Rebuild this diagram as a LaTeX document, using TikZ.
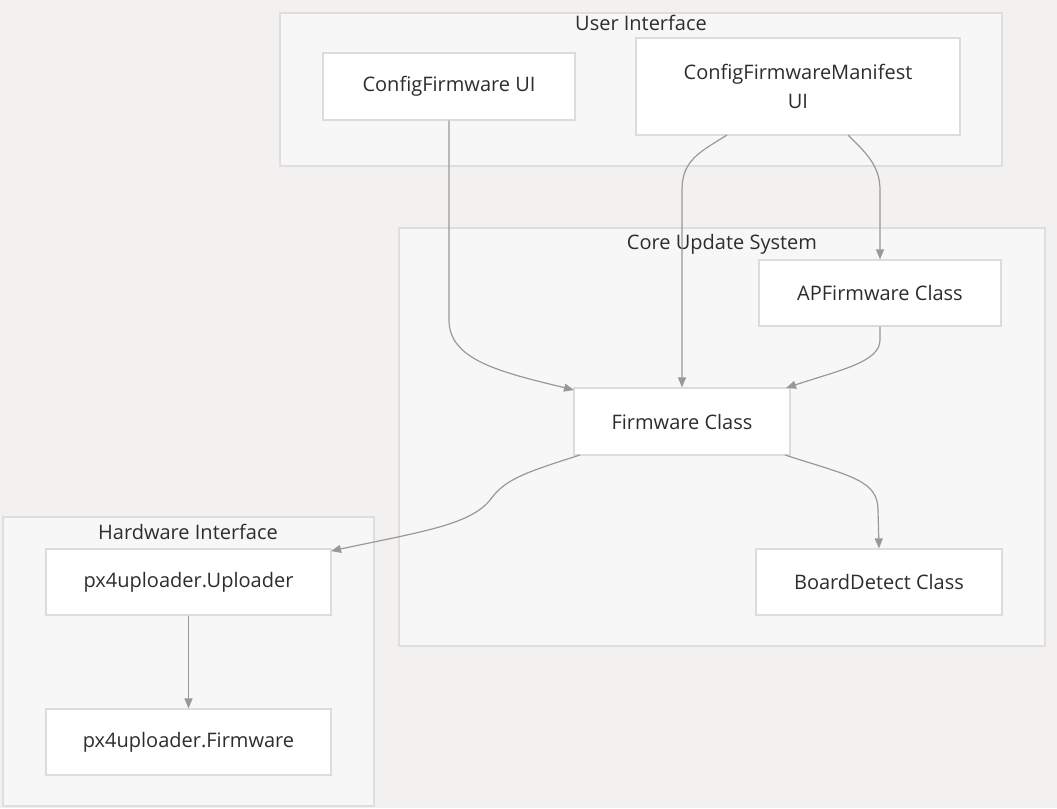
\documentclass[tikz,border=0pt]{standalone}
\usepackage{fontspec}
\setmainfont{Open Sans}
\usetikzlibrary{arrows.meta}
\definecolor{bg}{RGB}{242,241,240}
\definecolor{clfill}{RGB}{247,247,247}
\definecolor{clline}{RGB}{222,222,222}
\definecolor{ndline}{RGB}{220,220,220}
\definecolor{edge}{RGB}{153,153,153}
\definecolor{txt}{RGB}{45,45,45}
\begin{document}
\begin{tikzpicture}[x=0.75pt,y=-0.75pt,
  cluster/.style={draw=clline,fill=clfill,line width=0.9pt},
  cltitle/.style={text=txt,font=\fontsize{15}{18}\selectfont,inner sep=0pt,anchor=center},
  box/.style={draw=ndline,fill=white,line width=0.9pt,text=txt,font=\fontsize{15}{22}\selectfont,align=center,inner sep=0pt},
  conn/.style={draw=edge,line width=0.9pt,-{Triangle[length=7.5pt,width=6pt]}}]
\useasboundingbox (0,0) rectangle (1057,808);
\fill[bg] (0,0) rectangle (1057,808);
% clusters
\draw[cluster] (280,13) rectangle (1002,166);
\node[cltitle] (tUI) at (641,23) {User Interface};
\draw[cluster] (399,228) rectangle (1045,646);
\node[cltitle] (tCore) at (722,244) {Core Update System};
\draw[cluster] (3,517) rectangle (374,806);
\node[cltitle] (tHW) at (188,532) {Hardware Interface};
% nodes
\node[box,minimum width=252*0.75pt,minimum height=67*0.75pt] (cfui) at (449,86.5) {ConfigFirmware UI};
\node[box,minimum width=324*0.75pt,minimum height=97*0.75pt] (cfm) at (798,86.5) {ConfigFirmwareManifest\\UI};
\node[box,minimum width=242*0.75pt,minimum height=66*0.75pt] (apf) at (880,293) {APFirmware Class};
\node[box,minimum width=216*0.75pt,minimum height=67*0.75pt] (fw) at (682,421.5) {Firmware Class};
\node[box,minimum width=246*0.75pt,minimum height=66*0.75pt] (bd) at (879,582) {BoardDetect Class};
\node[box,minimum width=285*0.75pt,minimum height=66*0.75pt] (upl) at (188.5,582) {px4uploader.Uploader};
\node[box,minimum width=285*0.75pt,minimum height=66*0.75pt] (pfw) at (188.5,742) {px4uploader.Firmware};
% edges
\coordinate (e1) at (574,390);
\draw[conn] (cfui.south) -- (449,320) .. controls (449,360) and (500,372) .. (e1);
\coordinate (e2a) at (727,135);
\draw[conn] (e2a) .. controls (700,152) and (682,160) .. (682,190) -- (fw.north);
\coordinate (e3a) at (848,135);
\draw[conn] (e3a) .. controls (865,152) and (880,165) .. (880,190) -- (apf.north);
\coordinate (e4) at (786,388);
\draw[conn] (apf.south) -- (880,340) .. controls (880,362) and (840,370) .. (e4);
\coordinate (e5a) at (580,455);
\coordinate (e5) at (331,551);
\draw[conn] (e5a) .. controls (520,474) and (505,480) .. (490,500) .. controls (470,525) and (420,532) .. (e5);
\coordinate (e6a) at (785,455);
\draw[conn] (e6a) .. controls (850,476) and (878,480) .. (878,510) -- (bd.north);
\draw[conn] (upl.south) -- (pfw.north);
\end{tikzpicture}
\end{document}
